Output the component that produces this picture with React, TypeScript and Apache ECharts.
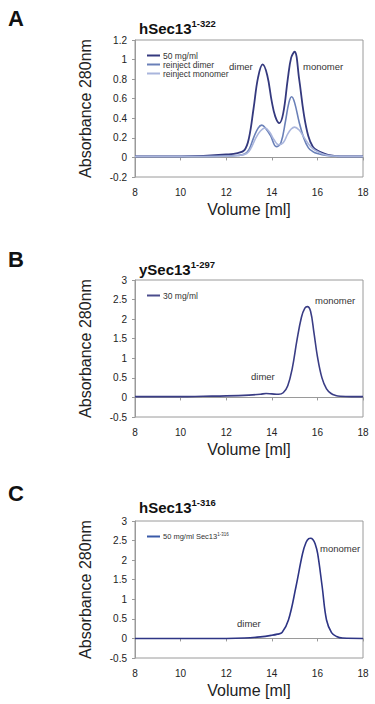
import React, { useEffect, useRef } from "react";
import * as echarts from "echarts";

// Panel A: hSec13 1-322
const aDarkVol = [8, 10, 11, 12, 12.5, 12.8, 13.0, 13.2, 13.4, 13.6, 13.8, 14.0, 14.15, 14.33, 14.5, 14.7, 14.85, 15.0, 15.2, 15.4, 15.6, 15.8, 16.0, 16.3, 16.6, 17, 18];
const aDarkAbs = [0.01, 0.01, 0.015, 0.03, 0.045, 0.075, 0.2, 0.5, 0.82, 0.95, 0.84, 0.57, 0.42, 0.35, 0.45, 0.8, 1.02, 1.08, 0.8, 0.45, 0.22, 0.11, 0.07, 0.04, 0.02, 0.01, 0.01];
const aMidVol = [8, 11, 12, 12.5, 12.8, 13.0, 13.2, 13.4, 13.56, 13.75, 13.95, 14.2, 14.4, 14.6, 14.75, 14.87, 15.0, 15.2, 15.4, 15.6, 15.8, 16.0, 16.4, 17, 18];
const aMidAbs = [0.01, 0.01, 0.015, 0.02, 0.035, 0.08, 0.2, 0.3, 0.33, 0.29, 0.22, 0.11, 0.15, 0.37, 0.56, 0.62, 0.56, 0.36, 0.2, 0.1, 0.06, 0.04, 0.02, 0.01, 0.01];
const aLightVol = [8, 11, 12, 12.5, 12.9, 13.1, 13.3, 13.5, 13.7, 13.9, 14.1, 14.3, 14.5, 14.7, 14.85, 15.0, 15.2, 15.4, 15.6, 15.8, 16.0, 16.3, 16.7, 17, 18];
const aLightAbs = [0.01, 0.01, 0.012, 0.02, 0.04, 0.1, 0.2, 0.27, 0.3, 0.26, 0.18, 0.13, 0.15, 0.24, 0.29, 0.31, 0.28, 0.21, 0.14, 0.09, 0.06, 0.03, 0.015, 0.01, 0.01];

// Panel B: ySec13 1-297
const bVol = [8, 10, 11, 12, 13, 13.5, 13.75, 14.0, 14.3, 14.5, 14.7, 14.9, 15.1, 15.3, 15.45, 15.56, 15.7, 15.85, 16.0, 16.2, 16.4, 16.6, 16.8, 17, 17.5, 18];
const bAbs = [0.02, 0.02, 0.03, 0.04, 0.06, 0.08, 0.1, 0.09, 0.08, 0.12, 0.3, 0.75, 1.45, 2.05, 2.28, 2.32, 2.2, 1.65, 1.05, 0.5, 0.22, 0.1, 0.05, 0.03, 0.02, 0.02];

// Panel C: hSec13 1-316
const cVol = [8, 10, 12, 12.8, 13.5, 14.0, 14.25, 14.45, 14.73, 15.06, 15.35, 15.5, 15.62, 15.7, 15.8, 15.9, 16.01, 16.21, 16.4, 16.62, 16.84, 17.1, 18];
const cAbs = [0, 0, 0, 0.01, 0.04, 0.08, 0.11, 0.15, 0.47, 1.32, 2.17, 2.45, 2.55, 2.56, 2.53, 2.42, 2.17, 1.32, 0.47, 0.15, 0.05, 0.01, 0];

const xTicks = [8, 10, 12, 14, 16, 18];
const aYRange = [-0.2, 1.2, 0.2];
const bcYRange = [-0.5, 3, 0.5];

const pairs = (xs: number[], ys: number[]) => xs.map((x, i) => [x, ys[i]]);

const FONT = "Liberation Sans, Arial, sans-serif";
const DARK = "#34397e";
const MID = "#6a80b8";
const LIGHT = "#a9b5dc";

export default function App() {
  const ref = useRef<HTMLDivElement>(null);
  useEffect(() => {
    if (!ref.current) return;
    const chart = echarts.init(ref.current, null, { renderer: "svg" });
    const tops = [40, 280, 521];
    const grids = tops.map((t) => ({
      left: 135, top: t, width: 228, height: 137,
      show: true, borderColor: "#9a9a9a", borderWidth: 1, backgroundColor: "transparent",
    }));
    const xAxes = tops.map((_, i) => ({
      type: "value", gridIndex: i, min: xTicks[0], max: xTicks[xTicks.length - 1], interval: 2,
      axisLine: { show: true, lineStyle: { color: "#9a9a9a" } },
      axisTick: { show: true, length: 3, lineStyle: { color: "#9a9a9a" } },
      splitLine: { show: false },
      axisLabel: { color: "#222", fontSize: 10, fontFamily: FONT, margin: 10 },
      name: "Volume [ml]", nameLocation: "middle", nameGap: 24,
      nameTextStyle: { color: "#222", fontSize: 16, fontFamily: FONT },
    }));
    const yAxes = tops.map((_, i) => {
      const r = i === 0 ? aYRange : bcYRange;
      return {
        type: "value", gridIndex: i, min: r[0], max: r[1], interval: r[2],
        axisLine: { show: true, lineStyle: { color: "#9a9a9a" } },
        axisTick: { show: true, length: 3, lineStyle: { color: "#9a9a9a" } },
        splitLine: { show: false },
        axisLabel: { color: "#222", fontSize: 10, fontFamily: FONT, margin: 8 },
        name: "Absorbance 280nm", nameLocation: "middle", nameGap: 42,
        nameTextStyle: { color: "#222", fontSize: 16, fontFamily: FONT },
      };
    });
    const line = (name: string, data: number[][], idx: number, color: string, w = 1.6) => ({
      type: "line", name, data, xAxisIndex: idx, yAxisIndex: idx, smooth: 0.4,
      showSymbol: false, symbol: "none", lineStyle: { color, width: w }, itemStyle: { color },
    });
    const legendBase = {
      orient: "vertical", left: 142, itemWidth: 13, itemHeight: 2, icon: "rect", itemGap: 0,
      selectedMode: false,
      textStyle: { color: "#333", fontSize: 8.5, fontFamily: FONT, lineHeight: 9, padding: [0, 0, 0, -2] },
    };
    const txt = (x: number, y: number, text: string, size = 9.5) => ({
      type: "text", left: x, top: y - size / 2 - 1,
      style: { text, fill: "#333", font: `${size}px ${FONT}` },
    });
    const titleRich = (y: number, main: string, sup: string) => ({
      type: "text", left: 139, top: y - 10,
      style: {
        text: `{m|${main}}{s|${sup}}`,
        rich: {
          m: { fontSize: 15, fontWeight: "bold", fontFamily: FONT, fill: "#111", verticalAlign: "bottom", lineHeight: 18 },
          s: { fontSize: 9.5, fontWeight: "bold", fontFamily: FONT, fill: "#111", verticalAlign: "top", lineHeight: 18, padding: [0, 0, 6, 0] },
        },
      },
    });
    chart.setOption({
      animation: false,
      grid: grids,
      xAxis: xAxes,
      yAxis: yAxes,
      legend: [
        { ...legendBase, top: 46, data: [
          { name: "50 mg/ml", itemStyle: { color: DARK } },
          { name: "reinject dimer", itemStyle: { color: MID } },
          { name: "reinject monomer", itemStyle: { color: LIGHT } },
        ] },
        { ...legendBase, top: 286, data: [{ name: "30 mg/ml", itemStyle: { color: "#4a4c8c" } }] },
        { ...legendBase, top: 527, formatter: () => "{a|50 mg/ml Sec13}{b|1-316}",
          textStyle: { ...legendBase.textStyle, fontSize: 7.5, rich: {
            a: { fontSize: 7.5, fontFamily: FONT, color: "#333" },
            b: { fontSize: 4.5, fontFamily: FONT, color: "#333", padding: [0, 0, 4, 0] },
          } },
          data: [{ name: "50 mg/ml Sec13 1-316", itemStyle: { color: "#3a5aa8" } }] },
      ],
      series: [
        line("50 mg/ml", pairs(aDarkVol, aDarkAbs), 0, DARK, 1.8),
        line("reinject dimer", pairs(aMidVol, aMidAbs), 0, MID, 1.6),
        line("reinject monomer", pairs(aLightVol, aLightAbs), 0, LIGHT, 1.6),
        line("30 mg/ml", pairs(bVol, bAbs), 1, "#3a3d85", 1.6),
        line("50 mg/ml Sec13 1-316", pairs(cVol, cAbs), 2, "#2e3585", 1.6),
      ],
      graphic: [
        { type: "text", left: 8, top: 7, style: { text: "A", font: `bold 22px ${FONT}`, fill: "#111" } },
        { type: "text", left: 8, top: 248, style: { text: "B", font: `bold 22px ${FONT}`, fill: "#111" } },
        { type: "text", left: 8, top: 482, style: { text: "C", font: `bold 22px ${FONT}`, fill: "#111" } },
        titleRich(28, "hSec13", "1-322"),
        titleRich(269, "ySec13", "1-297"),
        titleRich(507, "hSec13", "1-316"),
        txt(229, 67, "dimer"),
        txt(303, 67, "monomer"),
        txt(315, 301, "monomer"),
        txt(251, 377, "dimer"),
        txt(320, 549, "monomer"),
        txt(237, 624, "dimer"),
      ],
    });
    return () => chart.dispose();
  }, []);
  return (
    <div ref={ref} style={{ position: "fixed", left: 0, top: 0, width: 375, height: 704, background: "#fff" }} />
  );
}
